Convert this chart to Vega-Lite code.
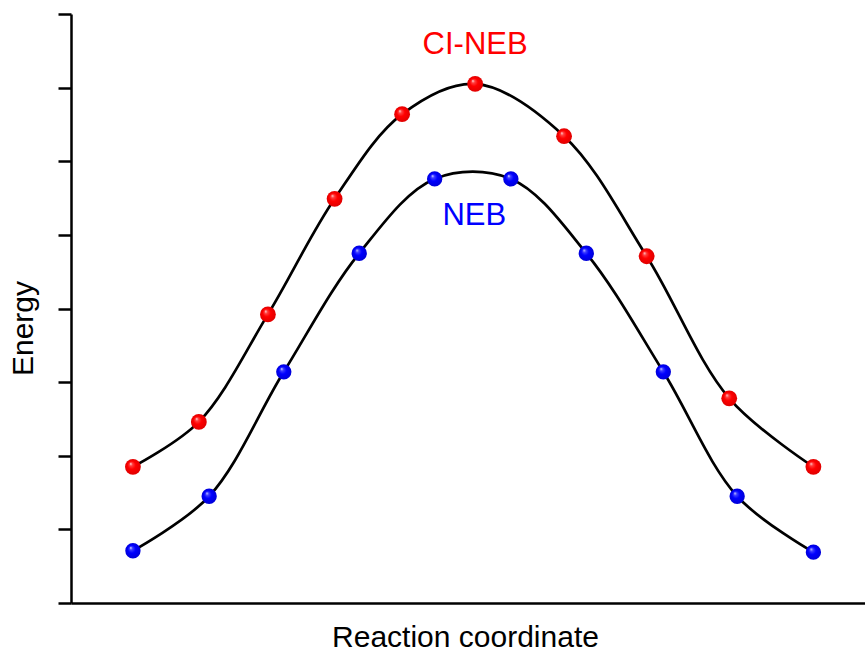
{
  "$schema": "https://vega.github.io/schema/vega-lite/v6.json",
  "width": 794,
  "height": 589,
  "autosize": {"type": "none"},
  "padding": {"left": 71, "top": 14, "right": 0, "bottom": 48},
  "background": "white",
  "config": {"view": {"stroke": null}, "font": "Liberation Sans"},
  "datasets": {
    "pts": [
      {"series": "CI-NEB", "rc": 0.078, "energy": 1.85},
      {"series": "CI-NEB", "rc": 0.161, "energy": 2.46},
      {"series": "CI-NEB", "rc": 0.248, "energy": 3.92},
      {"series": "CI-NEB", "rc": 0.332, "energy": 5.49},
      {"series": "CI-NEB", "rc": 0.417, "energy": 6.64},
      {"series": "CI-NEB", "rc": 0.509, "energy": 7.05},
      {"series": "CI-NEB", "rc": 0.621, "energy": 6.34},
      {"series": "CI-NEB", "rc": 0.725, "energy": 4.71},
      {"series": "CI-NEB", "rc": 0.829, "energy": 2.78},
      {"series": "CI-NEB", "rc": 0.935, "energy": 1.85},
      {"series": "NEB", "rc": 0.078, "energy": 0.71},
      {"series": "NEB", "rc": 0.174, "energy": 1.45},
      {"series": "NEB", "rc": 0.268, "energy": 3.14},
      {"series": "NEB", "rc": 0.363, "energy": 4.75},
      {"series": "NEB", "rc": 0.458, "energy": 5.76},
      {"series": "NEB", "rc": 0.554, "energy": 5.76},
      {"series": "NEB", "rc": 0.649, "energy": 4.75},
      {"series": "NEB", "rc": 0.746, "energy": 3.14},
      {"series": "NEB", "rc": 0.839, "energy": 1.45},
      {"series": "NEB", "rc": 0.935, "energy": 0.69}
    ],
    "labels": [
      {"series": "CI-NEB", "rc": 0.509, "energy": 7.46, "color": "#ff0000"},
      {"series": "NEB", "rc": 0.508, "energy": 5.13, "color": "#0000ff"}
    ]
  },
  "encoding": {
    "x": {
      "field": "rc", "type": "quantitative",
      "scale": {"domain": [0, 1], "nice": false, "zero": false},
      "axis": {
        "title": "Reaction coordinate", "labels": false, "ticks": false, "grid": false,
        "domainColor": "black", "domainWidth": 2.5,
        "titleFont": "Liberation Sans", "titleFontSize": 30, "titleFontWeight": "normal", "titleColor": "black",
        "titleBaseline": "alphabetic", "titleY": 43, "titleX": 394, "titleAlign": "center"
      }
    },
    "y": {
      "field": "energy", "type": "quantitative",
      "scale": {"domain": [0, 8], "nice": false, "zero": false},
      "axis": {
        "title": "Energy", "labels": false, "grid": false, "values": [0,1,2,3,4,5,6,7,8],
        "ticks": true, "tickSize": 13, "tickWidth": 2.5, "tickColor": "black",
        "domainColor": "black", "domainWidth": 2.5,
        "titleFont": "Liberation Sans", "titleFontSize": 30, "titleFontWeight": "normal", "titleColor": "black",
        "titleAngle": 270, "titleBaseline": "alphabetic", "titleAlign": "center", "titleX": -39, "titleY": 314
      }
    }
  },
  "layer": [
    {
      "data": {"name": "pts"},
      "mark": {"type": "line", "interpolate": "catmull-rom", "stroke": "black", "strokeWidth": 2.7},
      "encoding": {"detail": {"field": "series"}}
    },
    {
      "data": {"name": "pts"},
      "transform": [{"filter": "datum.series === 'CI-NEB'"}],
      "mark": {
        "type": "circle", "size": 250, "opacity": 1,
        "fill": {
          "gradient": "radial", "x1": 0.35, "y1": 0.3, "r1": 0, "x2": 0.5, "y2": 0.5, "r2": 0.5,
          "stops": [
            {"offset": 0, "color": "#ffe8e8"},
            {"offset": 0.2, "color": "#ff4040"},
            {"offset": 0.5, "color": "#ff0000"},
            {"offset": 1, "color": "#e00000"}
          ]
        }
      }
    },
    {
      "data": {"name": "pts"},
      "transform": [{"filter": "datum.series === 'NEB'"}],
      "mark": {
        "type": "circle", "size": 235, "opacity": 1,
        "fill": {
          "gradient": "radial", "x1": 0.35, "y1": 0.3, "r1": 0, "x2": 0.5, "y2": 0.5, "r2": 0.5,
          "stops": [
            {"offset": 0, "color": "#e8e8ff"},
            {"offset": 0.2, "color": "#4040ff"},
            {"offset": 0.5, "color": "#0000ff"},
            {"offset": 1, "color": "#0000d8"}
          ]
        }
      }
    },
    {
      "data": {"name": "labels"},
      "mark": {"type": "text", "font": "Liberation Sans", "fontSize": 31, "baseline": "alphabetic", "align": "center"},
      "encoding": {
        "text": {"field": "series"},
        "color": {"field": "color", "type": "nominal", "scale": null}
      }
    }
  ]
}
